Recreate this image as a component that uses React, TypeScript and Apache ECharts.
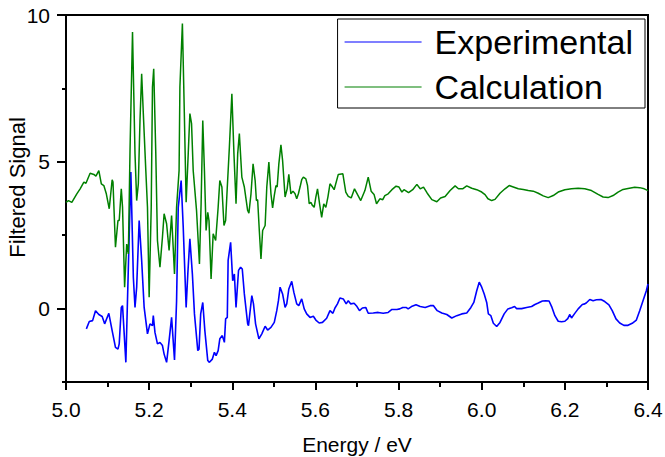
import React, { useEffect, useRef } from "react";
import * as echarts from "echarts";

// ---------- data ----------
const expEnergy = [
  5.049, 5.056, 5.064, 5.071, 5.079, 5.087, 5.093, 5.103, 5.111, 5.119, 5.125, 5.128, 5.133, 5.136, 5.144,
  5.156, 5.162, 5.166, 5.170, 5.176, 5.182, 5.188, 5.196, 5.202, 5.208, 5.210, 5.214, 5.220, 5.226, 5.232,
  5.236, 5.242, 5.248, 5.254, 5.261, 5.266, 5.270, 5.277, 5.282, 5.289, 5.293, 5.298, 5.304, 5.309, 5.317,
  5.320, 5.324, 5.329, 5.334, 5.341, 5.345, 5.352, 5.357, 5.361, 5.366, 5.370, 5.376, 5.381, 5.384, 5.388,
  5.390, 5.396, 5.401, 5.405, 5.409, 5.415, 5.420, 5.424, 5.429, 5.437, 5.439, 5.447, 5.451, 5.456, 5.464,
  5.471, 5.479, 5.485, 5.493, 5.501, 5.507, 5.511, 5.515, 5.521, 5.527, 5.531, 5.536, 5.543, 5.548, 5.555,
  5.560, 5.567, 5.573, 5.579, 5.587, 5.595, 5.601, 5.609, 5.617, 5.627, 5.635, 5.642, 5.647, 5.653, 5.659,
  5.667, 5.674, 5.679, 5.685, 5.693, 5.700, 5.706, 5.713, 5.721, 5.727, 5.739, 5.751, 5.763, 5.775, 5.784,
  5.796, 5.803, 5.810, 5.818, 5.823, 5.831, 5.842, 5.852, 5.864, 5.876, 5.884, 5.893, 5.904, 5.916, 5.928,
  5.940, 5.952, 5.964, 5.974, 5.981, 5.988, 5.994, 6.000, 6.006, 6.012, 6.016, 6.022, 6.028, 6.036, 6.044,
  6.054, 6.063, 6.072, 6.079, 6.084, 6.096, 6.108, 6.120, 6.128, 6.136, 6.146, 6.154, 6.162, 6.169, 6.176,
  6.184, 6.192, 6.200, 6.207, 6.212, 6.216, 6.223, 6.232, 6.242, 6.248, 6.252, 6.260, 6.268, 6.276, 6.287,
  6.296, 6.306, 6.314, 6.323, 6.332, 6.342, 6.352, 6.362, 6.372, 6.380, 6.388, 6.396, 6.400,
];
const expSignal = [
  -0.69, -0.44, -0.41, -0.07, -0.2, -0.27, -0.52, -0.16, -0.75, -1.32, -1.38, -1.2, 0.04, 0.1, -1.83,
  4.65, 1.07, 0.04, 0.73, 3.0, 1.64, 0.04, -0.86, -0.52, -0.58, -0.24, -0.81, -1.2, -1.15, -1.26,
  -1.55, -1.83, -1.09, -0.3, -1.75, 0.27, 3.45, 4.36, 2.77, 0.04, 1.18, 2.38, 1.18, -0.18, -1.43,
  -1.38, -0.18, 0.21, -0.75, -1.77, -1.83, -1.72, -1.49, -1.6, -1.43, -1.03, -0.92, -1.15, -0.35, -0.3,
  1.64, 2.26, 0.95, 1.18, 0.04, 1.3, 1.41, 1.35, 0.5, -0.52, -0.58, 0.44, 0.16, -0.52, -1.03,
  -0.86, -0.6, -0.73, -0.64, -0.47, -0.07, 0.27, 0.73, 0.5, 0.04, 0.16, 0.67, 0.93, 0.56, 0.16,
  0.1, 0.33, -0.01, -0.18, -0.3, -0.26, -0.39, -0.49, -0.47, -0.33, -0.07, -0.16, 0.02, 0.16, 0.36,
  0.33, 0.16, 0.27, 0.16, 0.18, 0.07, -0.07, 0.02, 0.04, -0.16, -0.15, -0.13, -0.16, -0.13, -0.03,
  -0.03, -0.01, 0.04, 0.04, -0.01, 0.07, 0.13, 0.07, 0.04, 0.1, 0.1, -0.07, -0.15, -0.2, -0.32,
  -0.24, -0.18, -0.15, 0.04, 0.21, 0.61, 0.9, 0.73, 0.5, 0.21, -0.18, -0.24, -0.5, -0.61, -0.47,
  -0.18, -0.01, 0.03, 0.07, 0.0, 0.0, 0.04, 0.07, 0.14, 0.19, 0.26, 0.27, 0.26, 0.04, -0.24,
  -0.43, -0.45, -0.43, -0.34, -0.2, -0.32, -0.18, -0.01, 0.14, 0.16, 0.2, 0.31, 0.27, 0.3, 0.31,
  0.24, 0.13, -0.07, -0.35, -0.49, -0.57, -0.57, -0.5, -0.39, -0.07, 0.27, 0.61, 0.84,
];

const calcEnergy = [
  5.000, 5.006, 5.014, 5.026, 5.034, 5.043, 5.048, 5.058, 5.067, 5.072, 5.079, 5.085, 5.091, 5.097, 5.104,
  5.111, 5.113, 5.119, 5.125, 5.128, 5.133, 5.136, 5.141, 5.146, 5.150, 5.154, 5.160, 5.166, 5.170, 5.174,
  5.178, 5.182, 5.186, 5.192, 5.196, 5.200, 5.205, 5.208, 5.211, 5.216, 5.220, 5.226, 5.232, 5.236, 5.242,
  5.248, 5.254, 5.261, 5.266, 5.272, 5.274, 5.280, 5.285, 5.289, 5.294, 5.298, 5.302, 5.306, 5.314, 5.321,
  5.325, 5.329, 5.333, 5.337, 5.341, 5.344, 5.349, 5.354, 5.360, 5.366, 5.370, 5.375, 5.380, 5.384, 5.388,
  5.393, 5.399, 5.404, 5.409, 5.413, 5.417, 5.423, 5.429, 5.437, 5.440, 5.445, 5.450, 5.455, 5.458, 5.461,
  5.465, 5.469, 5.473, 5.479, 5.483, 5.488, 5.493, 5.497, 5.501, 5.505, 5.508, 5.512, 5.517, 5.521, 5.527,
  5.532, 5.536, 5.541, 5.546, 5.551, 5.555, 5.559, 5.563, 5.567, 5.571, 5.577, 5.581, 5.585, 5.589, 5.593,
  5.597, 5.601, 5.605, 5.610, 5.615, 5.620, 5.625, 5.630, 5.635, 5.641, 5.645, 5.655, 5.666, 5.673, 5.679,
  5.686, 5.694, 5.701, 5.709, 5.719, 5.727, 5.734, 5.741, 5.747, 5.755, 5.762, 5.767, 5.775, 5.784, 5.794,
  5.801, 5.808, 5.813, 5.824, 5.834, 5.844, 5.852, 5.860, 5.869, 5.880, 5.892, 5.901, 5.912, 5.924, 5.936,
  5.944, 5.954, 5.964, 5.976, 5.988, 6.000, 6.008, 6.015, 6.024, 6.032, 6.044, 6.056, 6.066, 6.076, 6.088,
  6.100, 6.112, 6.124, 6.136, 6.148, 6.160, 6.172, 6.184, 6.200, 6.216, 6.232, 6.248, 6.264, 6.280, 6.292,
  6.304, 6.316, 6.328, 6.340, 6.352, 6.368, 6.380, 6.391, 6.400,
];
const calcSignal = [
  3.62, 3.68, 3.62, 3.91, 4.08, 4.31, 4.27, 4.61, 4.57, 4.51, 4.7, 4.25, 4.19, 3.91, 3.4,
  4.39, 4.31, 2.09, 3.0, 3.0, 4.08, 3.45, 0.73, 2.2, 1.86, 5.39, 9.42, 5.27, 3.68, 4.25,
  6.41, 8.0, 6.64, 4.7, 3.45, 0.39, 3.45, 7.55, 8.17, 5.27, 2.32, 1.41, 2.43, 3.23, 2.89,
  1.98, 3.17, 1.18, 3.45, 4.7, 7.55, 9.71, 6.41, 3.62, 5.27, 6.64, 6.3, 4.7, 3.34, 1.52,
  3.57, 6.41, 4.7, 2.66, 3.28, 3.0, 1.01, 2.55, 2.32, 3.45, 4.36, 4.14, 2.83, 3.0, 4.14,
  5.5, 7.32, 5.27, 3.57, 5.27, 5.96, 4.48, 4.14, 3.34, 3.25, 3.91, 4.93, 4.36, 3.68, 3.71,
  2.66, 1.69, 2.66, 2.83, 4.14, 4.99, 3.91, 3.43, 3.85, 4.19, 4.14, 4.93, 5.58, 5.05, 3.8,
  4.08, 4.57, 3.91, 4.0, 3.91, 3.74, 3.91, 4.14, 4.39, 4.48, 4.42, 4.19, 3.57, 3.62, 3.51,
  3.45, 3.8, 4.08, 3.57, 3.11, 3.57, 3.45, 3.8, 4.25, 4.14, 4.05, 4.57, 4.59, 3.97, 3.82,
  3.77, 4.08, 3.89, 3.68, 4.02, 4.48, 4.0, 3.89, 3.57, 3.74, 3.71, 3.85, 3.91, 4.05, 4.17,
  4.14, 3.97, 4.05, 3.95, 4.05, 4.23, 4.08, 4.14, 3.93, 3.71, 3.64, 3.77, 3.82, 4.02, 4.18,
  4.08, 4.08, 4.18, 4.1, 4.05, 3.97, 3.88, 3.74, 3.68, 3.72, 3.93, 4.08, 4.19, 4.14, 4.08,
  4.06, 4.02, 4.0, 3.93, 3.84, 3.78, 3.85, 3.97, 4.05, 4.08, 4.1, 4.08, 4.02, 3.89, 3.8,
  3.78, 3.85, 3.97, 4.06, 4.09, 4.13, 4.12, 4.08, 4.02,
];

const seriesNames = ["Experimental", "Calculation"];
const seriesColors = ["#0000ff", "#008000"];
const majorYTicks = [0, 5, 10];
const minorYTicks = [-2.5, 2.5, 7.5];

const FONT = "'Liberation Sans', Arial, sans-serif";

export default function App() {
  const ref = useRef<HTMLDivElement>(null);

  useEffect(() => {
    if (!ref.current) return;
    const chart = echarts.init(ref.current, undefined, { renderer: "svg" });
    const expData = expEnergy.map((e, i) => [e, expSignal[i]]);
    const calcData = calcEnergy.map((e, i) => [e, calcSignal[i]]);

    chart.setOption({
      animation: false,
      backgroundColor: "#fff",
      grid: {
        left: 66,
        right: 17,
        top: 15,
        bottom: 75,
        containLabel: false,
        outerBoundsMode: "none",
        show: true,
        borderColor: "#000",
        borderWidth: 2,
        backgroundColor: "transparent",
      },
      legend: {
        data: seriesNames.map((n) => ({ name: n, icon: "rect" })),
        orient: "vertical",
        right: 20,
        top: 19,
        padding: [4, 12, 2, 7],
        itemGap: 7,
        itemWidth: 77,
        itemHeight: 1.2,
        borderColor: "#000",
        borderWidth: 1,
        borderRadius: 0,
        backgroundColor: "#fff",
        textStyle: {
          fontFamily: FONT,
          fontSize: 34,
          color: "#000",
          lineHeight: 38,
          padding: [0, 0, 0, 8],
        },
      },
      xAxis: {
        type: "value",
        min: 5.0,
        max: 6.4,
        interval: 0.2,
        name: "Energy / eV",
        nameLocation: "middle",
        nameGap: 52,
        nameMoveOverlap: false,
        nameTextStyle: { fontFamily: FONT, fontSize: 21, color: "#000" },
        axisLine: { show: true, onZero: false, lineStyle: { color: "#000", width: 2 } },
        axisTick: { show: true, length: 8, lineStyle: { color: "#000", width: 2 } },
        minorTick: { show: true, splitNumber: 2, length: 5, lineStyle: { color: "#000", width: 2 } },
        axisLabel: {
          fontFamily: FONT,
          fontSize: 21,
          color: "#000",
          margin: 17,
          formatter: (v: number) => v.toFixed(1),
        },
        splitLine: { show: false },
      },
      yAxis: [
        {
          type: "value",
          min: -2.5,
          max: 10,
          name: "Filtered Signal",
          nameLocation: "middle",
          nameGap: 38,
          nameRotate: 90,
          nameMoveOverlap: false,
          nameTextStyle: { fontFamily: FONT, fontSize: 22, color: "#000", padding: [0, 0, 0, 22] },
          axisLine: { show: true, onZero: false, lineStyle: { color: "#000", width: 2 } },
          axisTick: { show: true, length: 9, customValues: majorYTicks, lineStyle: { color: "#000", width: 2 } },
          axisLabel: {
            customValues: majorYTicks,
            fontFamily: FONT,
            fontSize: 21,
            color: "#000",
            margin: 16,
          },
          splitLine: { show: false },
        },
        {
          type: "value",
          min: -2.5,
          max: 10,
          position: "left",
          axisLine: { show: false, onZero: false },
          axisTick: { show: true, length: 4, customValues: minorYTicks, lineStyle: { color: "#000", width: 2 } },
          axisLabel: { show: false },
          splitLine: { show: false },
        },
      ],
      series: [
        {
          name: seriesNames[0],
          type: "line",
          data: expData,
          symbol: "none",
          showSymbol: false,
          color: seriesColors[0],
          lineStyle: { color: seriesColors[0], width: 1.6 },
          yAxisIndex: 0,
          clip: true,
        },
        {
          name: seriesNames[1],
          type: "line",
          data: calcData,
          symbol: "none",
          showSymbol: false,
          color: seriesColors[1],
          lineStyle: { color: seriesColors[1], width: 1.5 },
          yAxisIndex: 0,
          clip: true,
        },
      ],
    });

    return () => chart.dispose();
  }, []);

  return <div ref={ref} style={{ width: 665, height: 457, position: "absolute", left: 0, top: 0 }} />;
}
